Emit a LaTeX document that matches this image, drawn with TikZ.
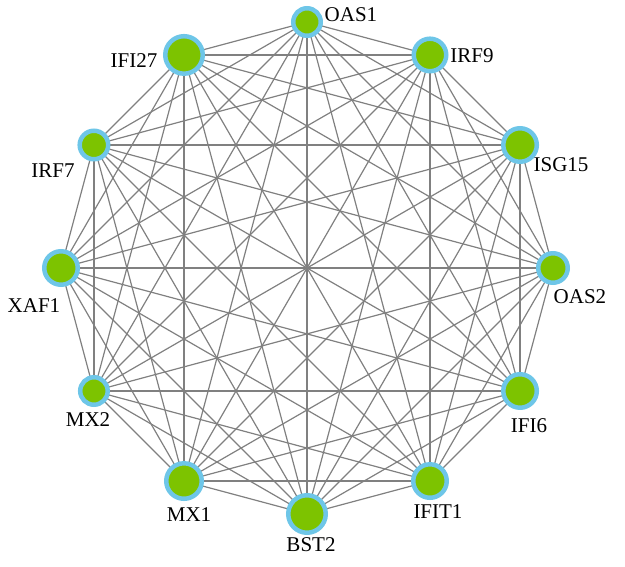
\documentclass[tikz,border=0pt]{standalone}
\usepackage{fontspec}
\setmainfont{Liberation Serif}
\usetikzlibrary{backgrounds}
\definecolor{ringblue}{HTML}{6EC6E8}
\definecolor{genegreen}{HTML}{7DC300}
\definecolor{edgegray}{HTML}{808080}
\begin{document}
\begin{tikzpicture}[x=1pt,y=1pt,
  gene/.style={circle, fill=genegreen, draw=ringblue, line width=4.5pt,
               inner sep=0pt, minimum size=#1},
  tag/.style={font=\fontsize{21}{21}\selectfont, inner sep=0pt, text=black},
  link/.style={draw=edgegray, line width=1.2pt}]
\useasboundingbox (0,0) rectangle (625,567);

% genes on a regular 12-gon
\begin{scope}[shift={(307,299)}]
  \node[gene=27.5pt] (OAS1)  at (90:246)   {};
  \node[gene=32.5pt] (IRF9)  at (60:246)   {};
  \node[gene=33.5pt] (ISG15) at (30:246)   {};
  \node[gene=29.5pt] (OAS2)  at (0:246)    {};
  \node[gene=33.5pt] (IFI6)  at (-30:246)  {};
  \node[gene=33.5pt] (IFIT1) at (-60:246)  {};
  \node[gene=37.5pt] (BST2)  at (-90:246)  {};
  \node[gene=35.5pt] (MX1)   at (-120:246) {};
  \node[gene=27.5pt] (MX2)   at (-150:246) {};
  \node[gene=33.5pt] (XAF1)  at (180:246)  {};
  \node[gene=28.5pt] (IRF7)  at (150:246)  {};
  \node[gene=37.5pt] (IFI27) at (120:246)  {};
\end{scope}

% every gene is linked to every other gene
\begin{scope}[on background layer]
  \foreach \a [count=\i] in {OAS1,IRF9,ISG15,OAS2,IFI6,IFIT1,BST2,MX1,MX2,XAF1,IRF7,IFI27}{
    \foreach \b [count=\j] in {OAS1,IRF9,ISG15,OAS2,IFI6,IFIT1,BST2,MX1,MX2,XAF1,IRF7,IFI27}{
      \ifnum\j>\i \draw[link] (\a.center) -- (\b.center); \fi
    }
  }
\end{scope}

% gene names
\node[tag] (OAS1-name)  at (351,552) {OAS1};
\node[tag] (IRF9-name)  at (472,511) {IRF9};
\node[tag] (ISG15-name) at (561,402) {ISG15};
\node[tag] (OAS2-name)  at (580,270) {OAS2};
\node[tag] (IFI6-name)  at (529,141) {IFI6};
\node[tag] (IFIT1-name) at (438,55)  {IFIT1};
\node[tag] (BST2-name)  at (311,22)  {BST2};
\node[tag] (MX1-name)   at (189,52)  {MX1};
\node[tag] (MX2-name)   at (88,147)  {MX2};
\node[tag] (XAF1-name)  at (34,261)  {XAF1};
\node[tag] (IRF7-name)  at (53,396)  {IRF7};
\node[tag] (IFI27-name) at (134,506) {IFI27};
\end{tikzpicture}
\end{document}
